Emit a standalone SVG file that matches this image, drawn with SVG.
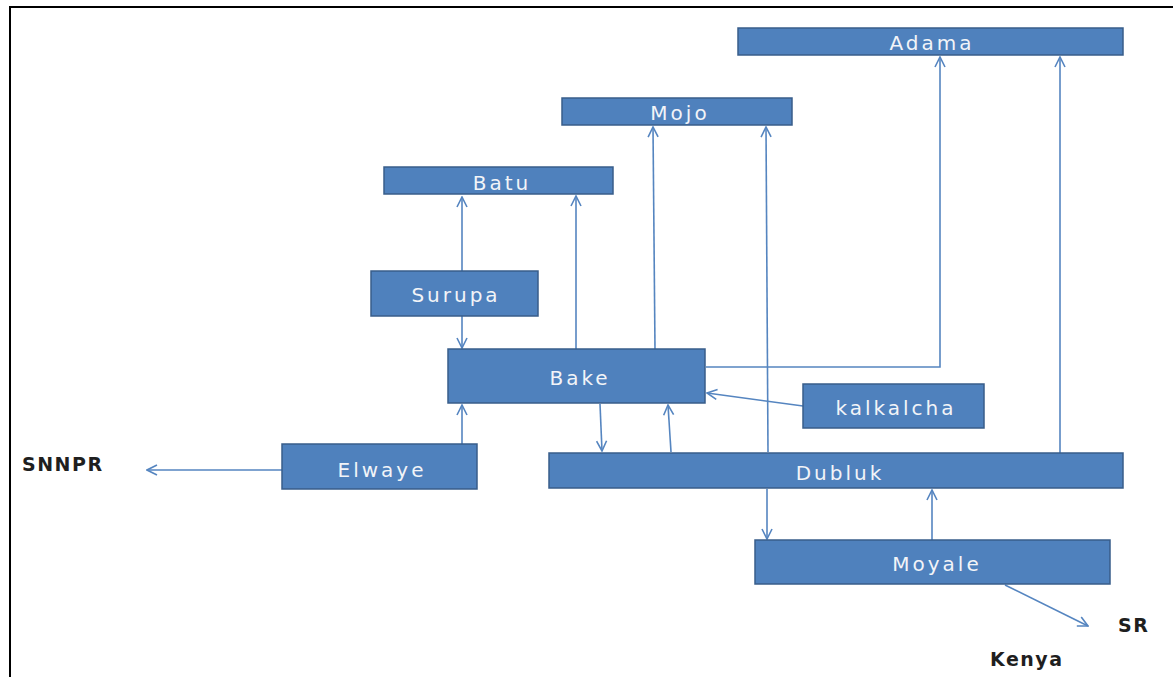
<svg xmlns="http://www.w3.org/2000/svg" width="1173" height="677" viewBox="0 0 1173 677">
<style>
.box{fill:#4F81BD;stroke:#385D8A;stroke-width:1.5}
.lbl{font-family:"DejaVu Sans",sans-serif;font-size:20px;fill:#F2F4F8;text-anchor:middle;letter-spacing:3px}
.ext{font-family:"DejaVu Sans",sans-serif;font-size:19px;font-weight:bold;fill:#1F1F1F;letter-spacing:1.5px}
.con{fill:none;stroke:#5585C0;stroke-width:1.6}
</style>
<defs>
<marker id="ah" viewBox="0 0 12 12" refX="11" refY="6" markerWidth="12" markerHeight="12" markerUnits="userSpaceOnUse" orient="auto">
<path d="M1,1 L11,6 L1,11" fill="none" stroke="#5585C0" stroke-width="1.6"/>
</marker>
</defs>
<rect x="0" y="0" width="1173" height="677" fill="#FFFFFF"/>
<rect x="10" y="7" width="1200" height="700" fill="none" stroke="#000000" stroke-width="2"/>
<g id="connectors">
<path class="con" d="M462,271 L462,197" marker-end="url(#ah)"/>
<path class="con" d="M462,316 L462,348" marker-end="url(#ah)"/>
<path class="con" d="M576,349 L576,196" marker-end="url(#ah)"/>
<path class="con" d="M655,349 L653,127" marker-end="url(#ah)"/>
<path class="con" d="M768,452 L766,127" marker-end="url(#ah)"/>
<path class="con" d="M706,367 L940,367 L940,57" marker-end="url(#ah)"/>
<path class="con" d="M1060,453 L1060,57" marker-end="url(#ah)"/>
<path class="con" d="M803,406 L707,393" marker-end="url(#ah)"/>
<path class="con" d="M600,404 L602,451" marker-end="url(#ah)"/>
<path class="con" d="M671,452 L668,405" marker-end="url(#ah)"/>
<path class="con" d="M462,444 L462,405" marker-end="url(#ah)"/>
<path class="con" d="M282,470 L147,470" marker-end="url(#ah)"/>
<path class="con" d="M767,489 L767,539" marker-end="url(#ah)"/>
<path class="con" d="M932,540 L932,490" marker-end="url(#ah)"/>
<path class="con" d="M1005,585 L1088,626" marker-end="url(#ah)"/>
</g>
<g id="adama"><rect class="box" x="738" y="28" width="385" height="27"/><text class="lbl" x="932" y="50">Adama</text></g>
<g id="mojo"><rect class="box" x="562" y="98" width="230" height="27"/><text class="lbl" x="680" y="120">Mojo</text></g>
<g id="batu"><rect class="box" x="384" y="167" width="229" height="27"/><text class="lbl" x="502" y="190">Batu</text></g>
<g id="surupa"><rect class="box" x="371" y="271" width="167" height="45"/><text class="lbl" x="456" y="302">Surupa</text></g>
<g id="bake"><rect class="box" x="448" y="349" width="257" height="54"/><text class="lbl" x="580" y="385">Bake</text></g>
<g id="kalkalcha"><rect class="box" x="803" y="384" width="181" height="44"/><text class="lbl" x="896" y="415">kalkalcha</text></g>
<g id="elwaye"><rect class="box" x="282" y="444" width="195" height="45"/><text class="lbl" x="382" y="477">Elwaye</text></g>
<g id="dubluk"><rect class="box" x="549" y="453" width="574" height="35"/><text class="lbl" x="840" y="480">Dubluk</text></g>
<g id="moyale"><rect class="box" x="755" y="540" width="355" height="44"/><text class="lbl" x="937" y="571">Moyale</text></g>
<g id="labels">
<text class="ext" x="22" y="471">SNNPR</text>
<text class="ext" x="1118" y="632">SR</text>
<text class="ext" x="990" y="666">Kenya</text>
</g>
</svg>
